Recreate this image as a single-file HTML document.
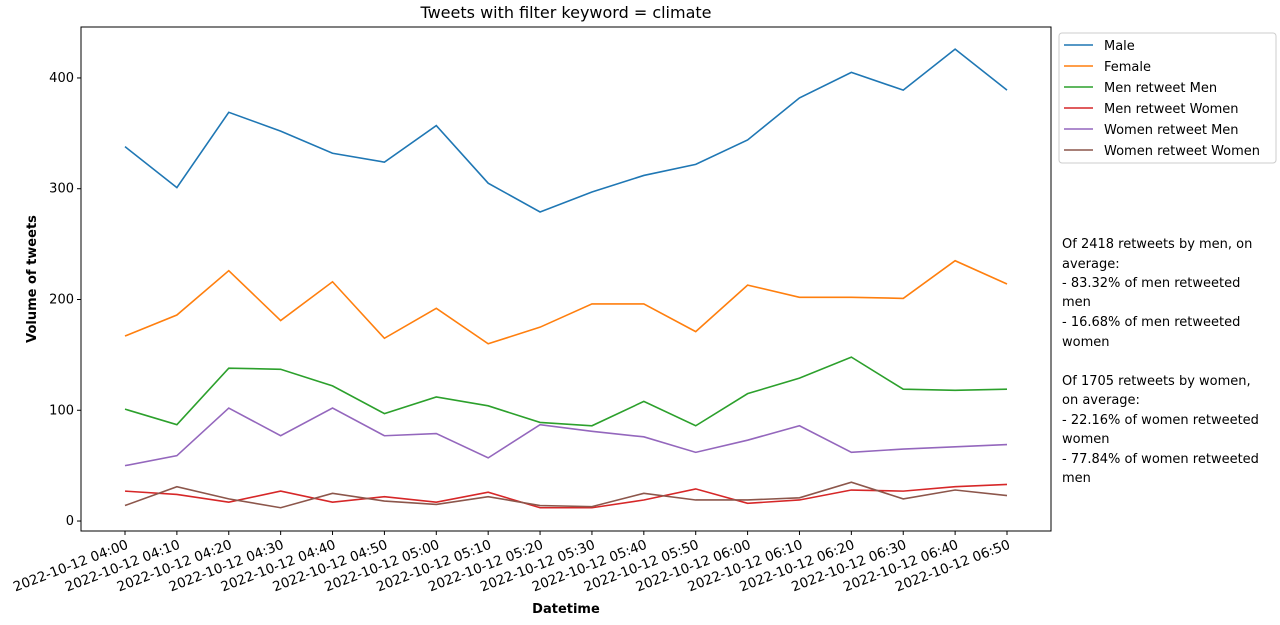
<!DOCTYPE html>
<html><head><meta charset="utf-8">
<style>
body{margin:0;background:#fff;font-family:"Liberation Sans","DejaVu Sans",sans-serif;}
svg text{font-family:"DejaVu Sans","Liberation Sans",sans-serif;}
</style></head>
<body>
<svg id="chart" width="1280" height="620">
<text x="566" y="18" font-size="16" text-anchor="middle">Tweets with filter keyword = climate</text>
<g id="plot"></g>
<rect x="81" y="27" width="970" height="504" fill="none" stroke="#000" stroke-width="1"/>
<text x="566" y="613" font-size="13" font-weight="bold" text-anchor="middle">Datetime</text>
<text transform="translate(36,279) rotate(-90)" font-size="13" font-weight="bold" text-anchor="middle">Volume of tweets</text>
<g>
<rect x="1059" y="33" width="217" height="130" fill="#fff" stroke="#ccc" rx="3"/>
<g id="legend"></g>
</g>
<g font-size="13">
<text x="1062" y="248">Of 2418 retweets by men, on</text>
<text x="1062" y="268">average:</text>
<text x="1062" y="287">- 83.32% of men retweeted</text>
<text x="1062" y="306">men</text>
<text x="1062" y="326">- 16.68% of men retweeted</text>
<text x="1062" y="346">women</text>
<text x="1062" y="385">Of 1705 retweets by women,</text>
<text x="1062" y="404">on average:</text>
<text x="1062" y="424">- 22.16% of women retweeted</text>
<text x="1062" y="443">women</text>
<text x="1062" y="463">- 77.84% of women retweeted</text>
<text x="1062" y="482">men</text>
</g>
</svg>
<script>
const categories = ["2022-10-12 04:00","2022-10-12 04:10","2022-10-12 04:20","2022-10-12 04:30","2022-10-12 04:40","2022-10-12 04:50","2022-10-12 05:00","2022-10-12 05:10","2022-10-12 05:20","2022-10-12 05:30","2022-10-12 05:40","2022-10-12 05:50","2022-10-12 06:00","2022-10-12 06:10","2022-10-12 06:20","2022-10-12 06:30","2022-10-12 06:40","2022-10-12 06:50"];
const male = [338,301,369,352,332,324,357,305,279,297,312,322,344,382,405,389,426,389];
const female = [167,186,226,181,216,165,192,160,175,196,196,171,213,202,202,201,235,214];
const menRetweetMen = [101,87,138,137,122,97,112,104,89,86,108,86,115,129,148,119,118,119];
const menRetweetWomen = [27,24,17,27,17,22,17,26,12,12,19,29,16,19,28,27,31,33];
const womenRetweetMen = [50,59,102,77,102,77,79,57,87,81,76,62,73,86,62,65,67,69];
const womenRetweetWomen = [14,31,20,12,25,18,15,22,14,13,25,19,19,21,35,20,28,23];
const seriesNames = ["Male","Female","Men retweet Men","Men retweet Women","Women retweet Men","Women retweet Women"];
const yTicks = [0,100,200,300,400];

const colors = ["#1f77b4","#ff7f0e","#2ca02c","#d62728","#9467bd","#8c564b"];
const allSeries = [male,female,menRetweetMen,menRetweetWomen,womenRetweetMen,womenRetweetWomen];
const NS = "http://www.w3.org/2000/svg";
const L=81,R=1051,T=27,B=531;
const yMin=-9,yMax=446;
const xMinI=-0.848,xMaxI=categories.length-1+0.848;
function x(i){return L+(i-xMinI)/(xMaxI-xMinI)*(R-L);}
function y(v){return B-(v-yMin)/(yMax-yMin)*(B-T);}
const plot=document.getElementById('plot');
function mk(tag,attrs,parent){const e=document.createElementNS(NS,tag);for(const k in attrs)e.setAttribute(k,attrs[k]);parent.appendChild(e);return e;}

yTicks.forEach(t=>{
  const g=mk('g',{},plot);
  
  
  mk('line',{x1:L-4,x2:L,y1:y(t),y2:y(t),stroke:'#000'},g);
  const tx=mk('text',{x:L-7,y:y(t)+4,'font-size':13,'text-anchor':'end'},g);
  tx.textContent=t;
});
categories.forEach((c,i)=>{
  const g=mk('g',{},plot);
  
  
  mk('line',{x1:x(i),x2:x(i),y1:B,y2:B+4,stroke:'#000'},g);
  const tx=mk('text',{transform:`translate(${x(i)+4},${B+17}) rotate(-21)`,'font-size':13.5,'text-anchor':'end'},g);
  tx.textContent=c;
});
allSeries.forEach((s,k)=>{
  const p=mk('polyline',{points:s.map((v,i)=>x(i)+','+y(v)).join(' '),fill:'none',stroke:colors[k],'stroke-width':1.6},plot);
  
  
});
const leg=document.getElementById('legend');
seriesNames.forEach((n,k)=>{
  const g=mk('g',{},leg);
  
  
  const yy=45+k*21;
  mk('line',{x1:1064,x2:1093,y1:yy,y2:yy,stroke:colors[k],'stroke-width':1.6},g);
  const t=mk('text',{x:1104,y:yy+5,'font-size':13},g);
  t.textContent=n;
});
</script>
</body></html>
